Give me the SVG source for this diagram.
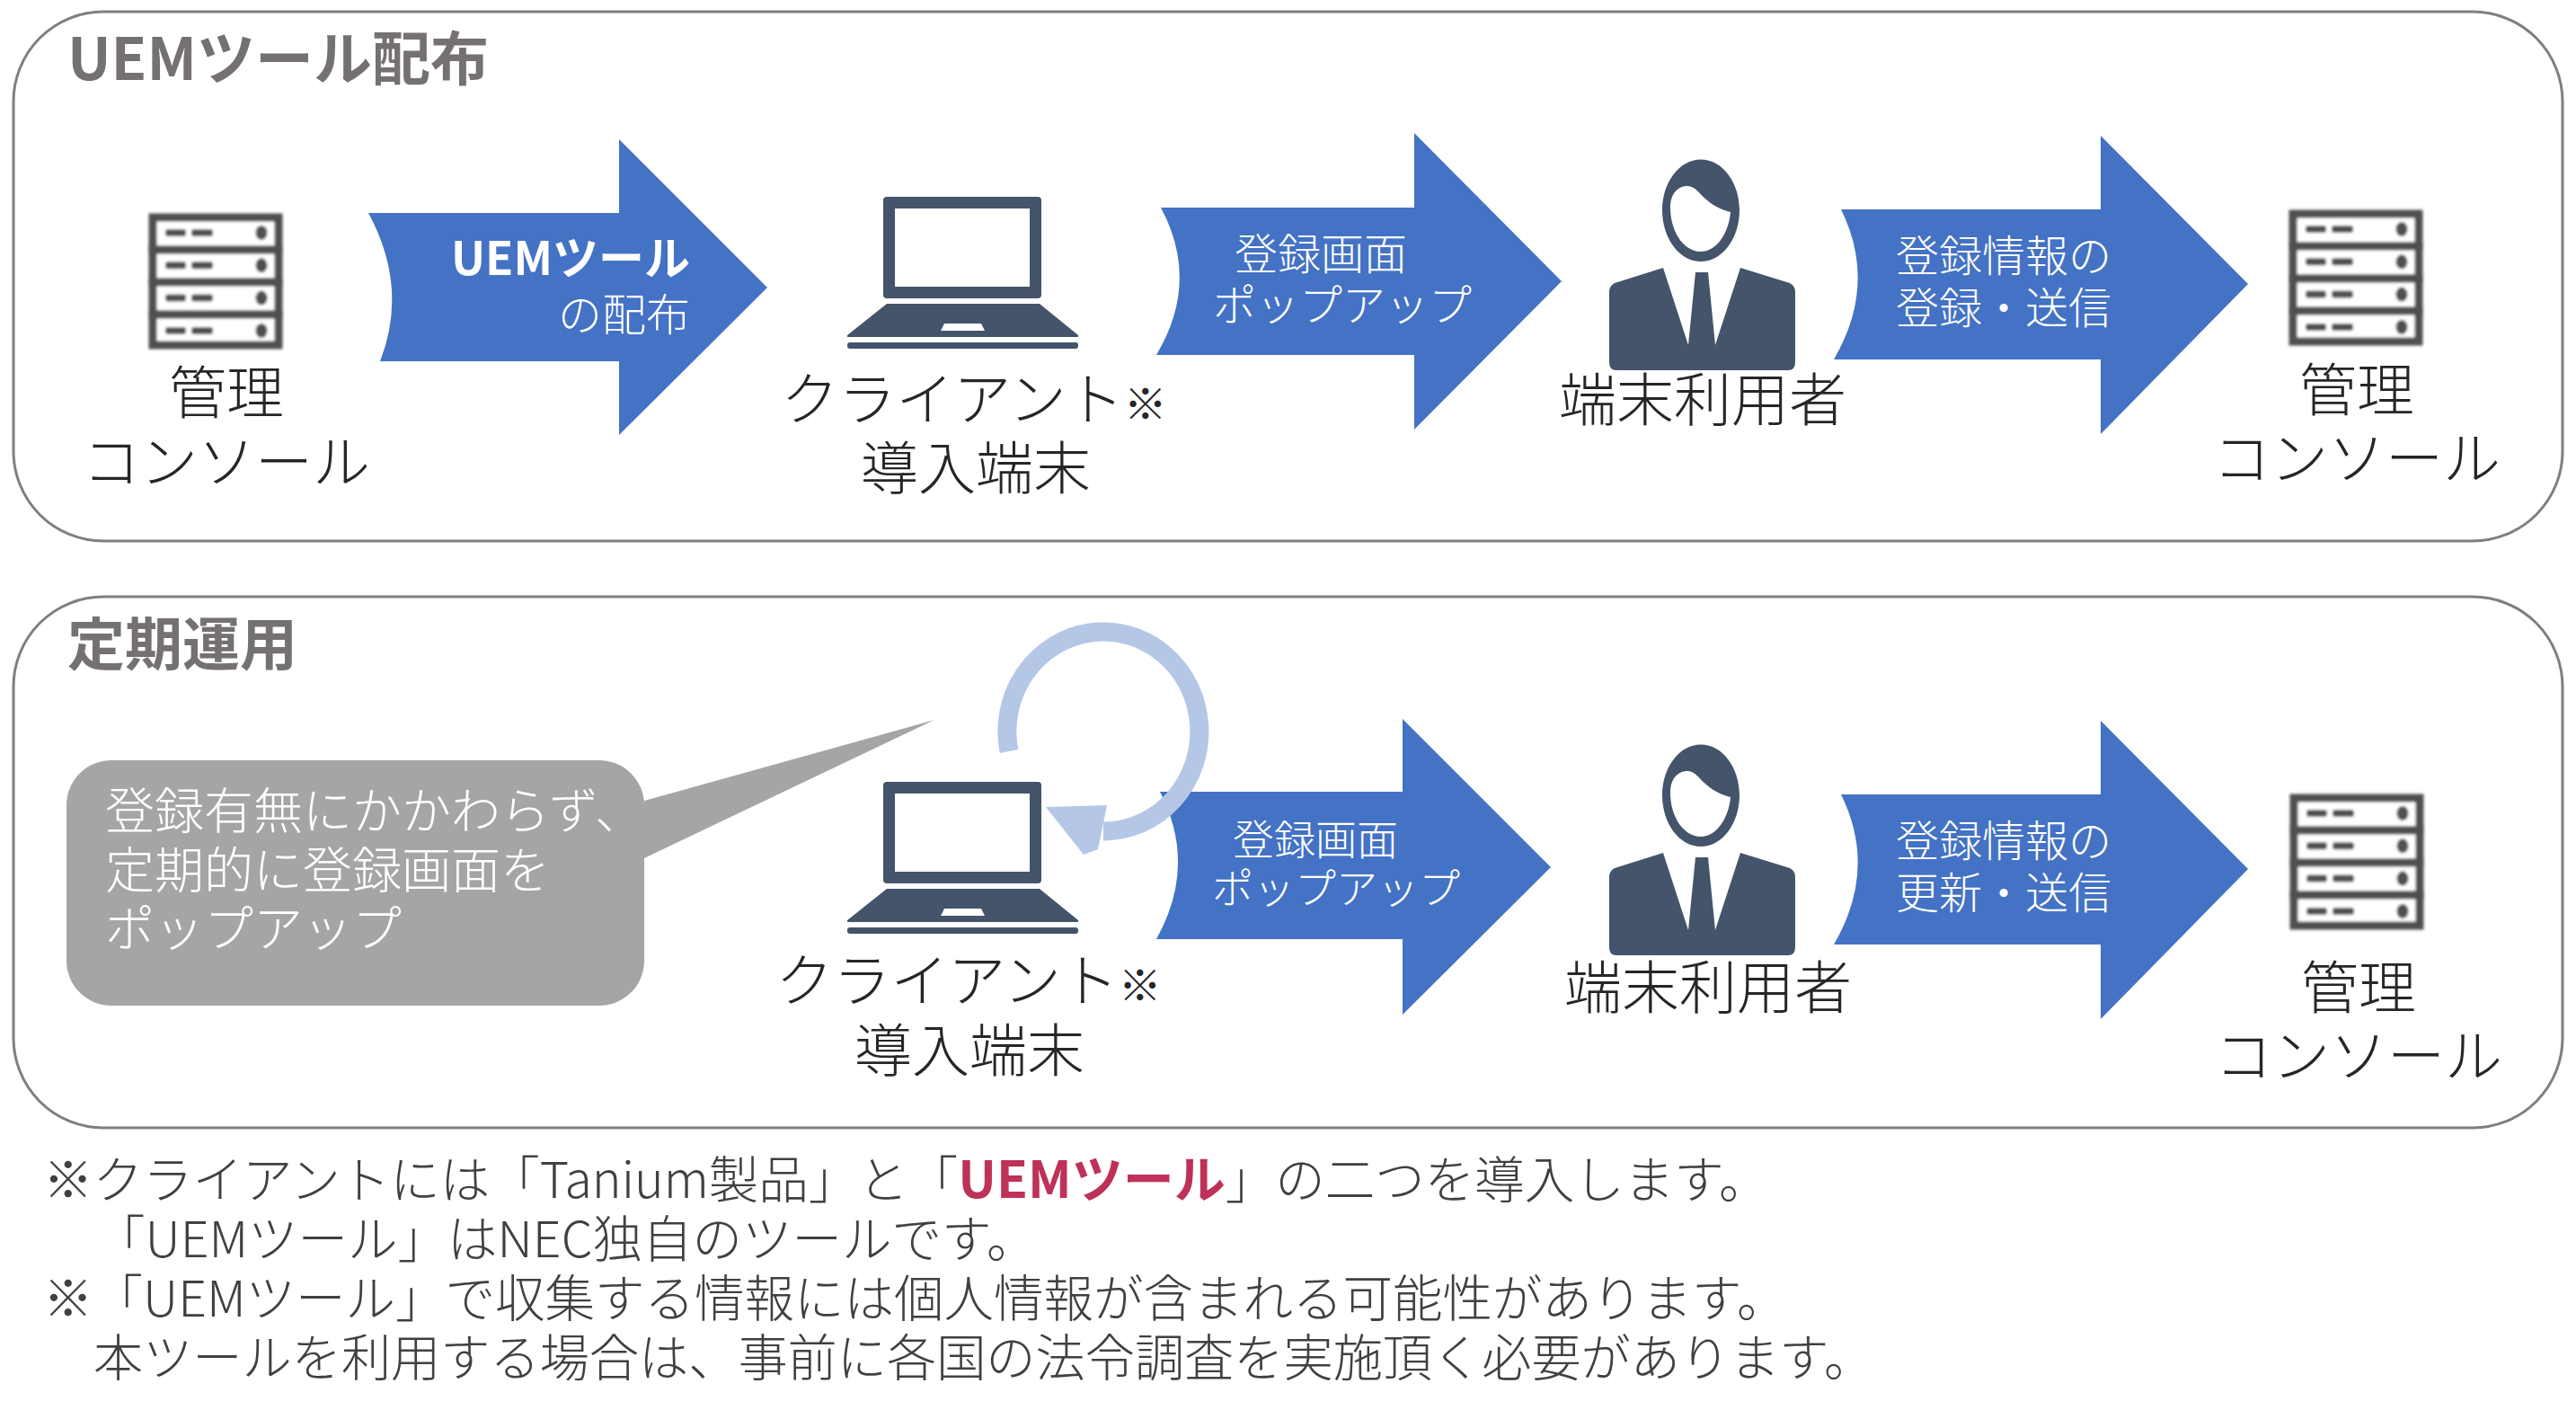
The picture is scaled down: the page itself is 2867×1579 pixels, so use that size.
<svg xmlns="http://www.w3.org/2000/svg" width="2867" height="1579" viewBox="0 0 2867 1579">
<style>
text{font-family:"Noto Sans CJK JP","Noto Sans",sans-serif}
.panel{fill:#fff;stroke:#7f7f7f;stroke-width:3}
.title{font-weight:700;fill:#767171}
.lbl{font-size:64px;font-weight:300;fill:#262626;text-anchor:middle}
.lbl .sm{font-size:48px}
.arr{fill:#4472c4}
.at{font-size:48px;font-weight:300;fill:#fff}
.note{font-size:55.500px;font-weight:300;fill:#404040}
.dark{fill:#44546a}
.s1{fill:#fff;stroke:#505050;stroke-width:9}
.s2{fill:#505050}
</style>
<defs>
<filter id="b" x="-5%" y="-5%" width="110%" height="110%"><feGaussianBlur stdDeviation="1.600"/></filter>
<g id="server" filter="url(#b)">
<rect class="s1" x="4" y="4" width="140" height="36"/><rect class="s1" x="4" y="40" width="140" height="36"/><rect class="s1" x="4" y="76" width="140" height="36"/><rect class="s1" x="4" y="112" width="140" height="34"/>
<g id="srow"><rect class="s2" x="18" y="17" width="23" height="8" rx="3"/><rect class="s2" x="47" y="17" width="24" height="8" rx="3"/><ellipse class="s2" cx="125" cy="21" rx="6.500" ry="8"/></g>
<use href="#srow" y="36.300"/><use href="#srow" y="72.600"/><use href="#srow" y="109"/>
</g>
<g id="laptop" class="dark">
<path fill-rule="evenodd" d="M987 870H1155a4 4 0 0 1 4 4V979a4 4 0 0 1-4 4H987a4 4 0 0 1-4-4V874a4 4 0 0 1 4-4ZM996 883V970H1146V883Z"/>
<path fill-rule="evenodd" d="M987 989H1157L1200 1024V1026H943V1024ZM1051 1011L1047 1019H1096L1092 1011Z"/>
<rect x="943" y="1032" width="257" height="7" rx="3"/>
</g>
<g id="person" class="dark">
<path fill-rule="evenodd" d="M1893 177.500C1869 177.500 1850 203 1850 234S1869 291 1893 291S1936 265 1936 234S1917 177.500 1893 177.500ZM1859 231C1859 215 1868 207 1878 207C1892 207 1893 227 1926 236C1924 260 1910 280 1893 280C1874 280 1859 258 1859 231Z"/>
<path d="M1851 298L1879 384L1887 303H1901L1909 384L1937 298L1992 315Q1998 318 1998 325V403Q1998 412 1990 412H1799Q1791 412 1791 403V325Q1791 318 1797 315Z"/>
</g>
</defs>
<rect width="2867" height="1579" fill="#fff"/>
<g id="panel-uem"><rect class="panel" x="15" y="13" width="2837" height="589" rx="100"/><text class="title" style="font-size:65px" x="75" y="89">UEMツール配布</text></g>
<g id="panel-regular"><rect class="panel" x="15" y="664" width="2837" height="591" rx="100"/><text class="title" style="font-size:64px" x="75" y="740">定期運用</text></g>
<g id="connectors">
<path class="arr" d="M410 237H689V155L854 320L689 484V402H423Q455 320 410 237Z"/>
<path class="arr" d="M1292 231H1574V148L1738 313L1574 478V395H1287Q1336 313 1292 231Z"/>
<path class="arr" d="M2049 233H2338V151L2502 316L2338 483V400H2041Q2090 316 2049 233Z"/>
<path class="arr" d="M1291 881H1561V800L1726 965L1561 1129V1045H1287Q1333 963 1291 881Z"/>
<path class="arr" d="M2049 884H2338V802L2502 967L2338 1134V1051H2041Q2090 967 2049 884Z"/>
</g>
<g id="arrow-labels">
<text class="at" style="font-size:51px;font-weight:700" x="768" y="306" text-anchor="end">UEMツール</text>
<text class="at" style="font-size:49px" x="768" y="368" text-anchor="end">の配布</text>
<text class="at" x="1470" y="300" text-anchor="middle">登録画面</text>
<text class="at" x="1494" y="357" text-anchor="middle">ポップアップ</text>
<text class="at" x="2110" y="302">登録情報の</text>
<text class="at" x="2110" y="360">登録・送信</text>
<text class="at" style="font-size:46px" x="1464" y="951" text-anchor="middle">登録画面</text>
<text class="at" style="font-size:46px" x="1487" y="1005" text-anchor="middle">ポップアップ</text>
<text class="at" x="2110" y="953">登録情報の</text>
<text class="at" x="2110" y="1011">更新・送信</text>
</g>
<g id="server-1"><use href="#server" x="166" y="238"/><text class="lbl" x="252" y="460">管理</text><text class="lbl" x="252" y="537">コンソール</text></g>
<g id="client-1"><use href="#laptop" y="-651"/><text class="lbl" x="1084" y="467">クライアント<tspan class="sm">※</tspan></text><text class="lbl" x="1086" y="544">導入端末</text></g>
<g id="user-1"><use href="#person"/><text class="lbl" x="1895" y="468">端末利用者</text></g>
<g id="server-2"><use href="#server" x="2548" y="234"/><text class="lbl" x="2623" y="457">管理</text><text class="lbl" x="2623" y="533">コンソール</text></g>
<g id="callout"><path fill="#a5a5a5" d="M124 846H667a50 50 0 0 1 50 50V891L1040 801L717 955V1069a50 50 0 0 1-50 50H124a50 50 0 0 1-50-50V896a50 50 0 0 1 50-50Z"/>
<text class="at" style="font-size:55px" x="117" y="922">登録有無にかかわらず、</text>
<text class="at" style="font-size:55px" x="117" y="988">定期的に登録画面を</text>
<text class="at" style="font-size:55px" x="117" y="1053">ポップアップ</text></g>
<g id="client-2"><use href="#laptop"/><text class="lbl" x="1078" y="1114">クライアント<tspan class="sm">※</tspan></text><text class="lbl" x="1079" y="1192">導入端末</text></g>
<g id="cycle"><path d="M1123 836A107 111 0 1 1 1228 925" fill="none" stroke="#b4c7e7" stroke-width="21"/><path fill="#b4c7e7" d="M1164 898L1232 896L1222 945L1206 951Z"/></g>
<g id="user-2"><use href="#person" y="651"/><text class="lbl" x="1901" y="1122">端末利用者</text></g>
<g id="server-3"><use href="#server" x="2549" y="884"/><text class="lbl" x="2625" y="1122">管理</text><text class="lbl" x="2625" y="1198">コンソール</text></g>
<g id="notes">
<text class="note" x="48" y="1333">※クライアントには「Tanium製品」と「<tspan font-weight="700" font-size="57" fill="#be3158">UEMツール</tspan>」の二つを導入します。</text>
<text class="note" x="106" y="1399">「UEMツール」はNEC独自のツールです。</text>
<text class="note" x="48" y="1465">※「UEMツール」で収集する情報には個人情報が含まれる可能性があります。</text>
<text class="note" style="font-size:55.200px" x="104" y="1531">本ツールを利用する場合は、事前に各国の法令調査を実施頂く必要があります。</text>
</g>
</svg>
